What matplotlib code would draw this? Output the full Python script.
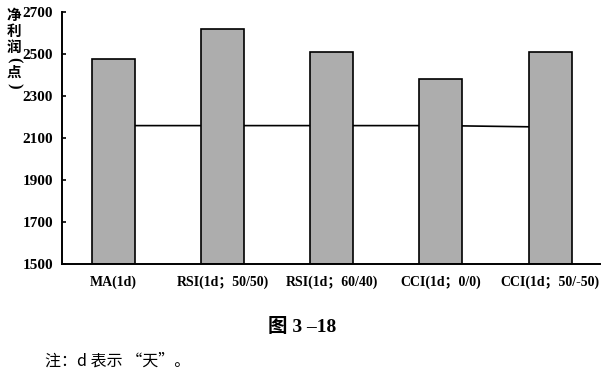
import numpy as np
import matplotlib
matplotlib.use("Agg")
import matplotlib.pyplot as plt

plt.rcParams["font.family"] = ["Liberation Serif", "Noto Sans CJK SC"]

# ---- 数据 ----
strategies = ["MA(1d)", "RSI(1d；50/50)", "RSI(1d；60/40)", "CCI(1d；0/0)", "CCI(1d；50/-50)"]
profit = [2480, 2620, 2510, 2380, 2510]
benchmark = [2160, 2160, 2160, 2160, 2153]
yticks = [1500, 1700, 1900, 2100, 2300, 2500, 2700]

fig = plt.figure(figsize=(6.05, 3.75), dpi=100, facecolor="white")
ax = fig.add_axes([0.1025, 0.296, 0.8895, 0.671])

x = np.arange(len(strategies))
ax.plot(x, benchmark, color="black", linewidth=1.2, zorder=1)
ax.bar(x, np.array(profit) - 1500, bottom=1500, width=0.395,
       color="#adadad", edgecolor="black", linewidth=1.2, zorder=2)

ax.set_xlim(-0.472, 4.459)
ax.set_ylim(1500, 2700)
ax.set_yticks(yticks)
ax.set_yticklabels([str(v) for v in yticks], fontsize=11, fontweight="bold")
ax.set_xticks(x)
ax.set_xticklabels(strategies, fontsize=10, fontweight="bold")
ax.tick_params(axis="y", direction="in", length=3, width=1.2, pad=6.5)
ax.tick_params(axis="x", length=0, pad=8)

for s in ["top", "right"]:
    ax.spines[s].set_visible(False)
ax.spines["left"].set_linewidth(1.4)
ax.spines["bottom"].set_linewidth(1.4)

# 竖排纵轴标题：逐字排列，括号旋转成竖排形式
cjk = ["Noto Sans CJK SC", "DejaVu Sans"]
for ch, py in [("净", 15), ("利", 31), ("润", 47), ("点", 72)]:
    fig.text(14 / 605, 1 - py / 375, ch, ha="center", va="center",
             fontsize=10.5, fontweight="bold", family=cjk)
for ch, py in [("(", 60), (")", 86)]:
    fig.text(14 / 605, 1 - py / 375, ch, ha="center", va="center", rotation=270,
             rotation_mode="anchor", fontsize=12, fontweight="bold",
             family="Liberation Serif")

fig.text(0.50, 0.128, "图 3 –18", ha="center", va="center", fontsize=14,
         fontweight="bold", family=["Liberation Serif", "Noto Sans CJK SC"])
fig.text(0.075, 0.037, "注：d 表示 “天”。", ha="left", va="center", fontsize=11.5,
         family=cjk)

plt.savefig("out.png", dpi=100)
plt.close()
